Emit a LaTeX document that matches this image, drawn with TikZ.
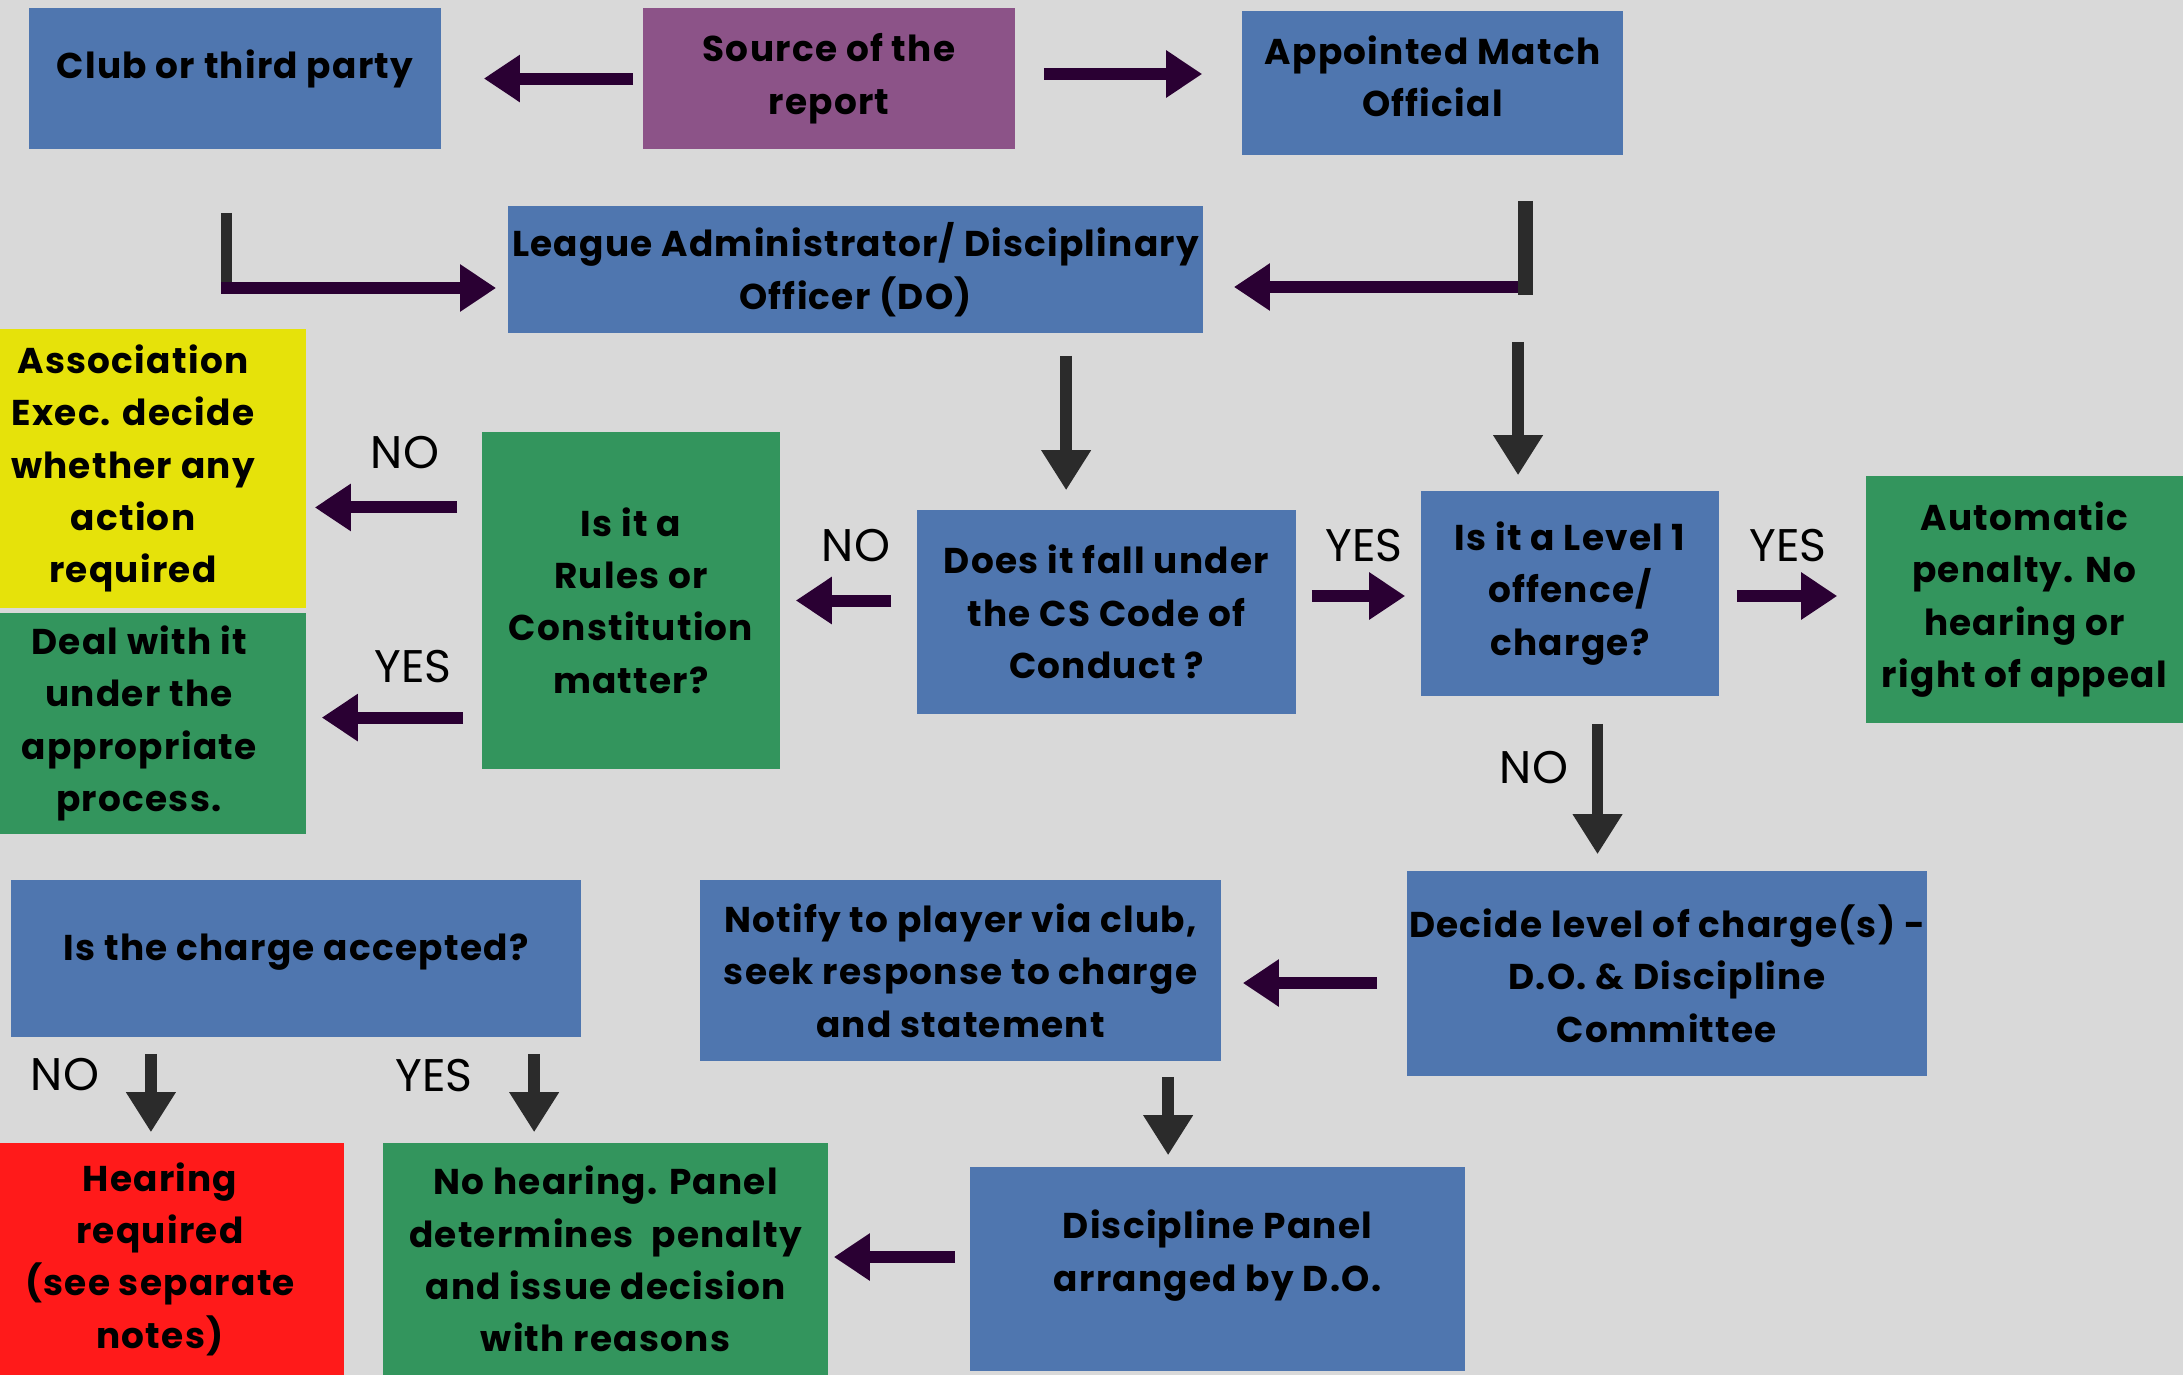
\documentclass[tikz,border=0pt]{standalone}
\usepackage{fontspec}
\setmainfont{Poppins}
\newfontfamily\boxfont{Poppins}[LetterSpace=3.5]
\usetikzlibrary{arrows.meta}

\definecolor{bgGrey}{RGB}{217,217,217}
\definecolor{boxBlue}{RGB}{79,118,175}
\definecolor{boxPurple}{RGB}{140,83,136}
\definecolor{boxGreen}{RGB}{51,149,93}
\definecolor{boxYellow}{RGB}{230,226,10}
\definecolor{boxRed}{RGB}{255,26,26}
\definecolor{arrowPurple}{RGB}{42,0,51}
\definecolor{arrowGrey}{RGB}{43,43,43}

\begin{document}
\begin{tikzpicture}[
    x=0.01cm, y=-0.01cm,
    box/.style={rectangle, inner sep=0pt, align=center, text=black,
      font=\boxfont\bfseries\fontsize{10.2}{14.9}\selectfont},
    bluebox/.style={box, fill=boxBlue},
    greenbox/.style={box, fill=boxGreen},
    parrow/.style={-{Triangle[length=0.36cm, width=0.45cm]}, line width=0.12cm, color=arrowPurple},
    garrow/.style={-{Triangle[length=0.40cm, width=0.47cm]}, line width=0.115cm, color=arrowGrey},
    gline/.style={line width=0.11cm, color=arrowGrey},
    yn/.style={inner sep=0pt, font=\fontsize{13}{15}\selectfont},
]
\useasboundingbox (0,0) rectangle (2183,1375);
\clip (0,0) rectangle (2183,1375);
\fill[bgGrey] (0,0) rectangle (2183,1375);

% top row
\node[bluebox, minimum width=4.12cm, minimum height=1.41cm, text depth=0.29cm] (club) at (235,78.5) {Club or third party};
\node[box, fill=boxPurple, minimum width=3.72cm, minimum height=1.41cm] (source) at (829,78.5) {Source of the\\report};
\node[bluebox, minimum width=3.81cm, minimum height=1.44cm, text depth=0.14cm] (appointed) at (1432.5,83) {Appointed Match\\Official};
\node[bluebox, minimum width=6.95cm, minimum height=1.27cm] (league) at (855.5,269.5) {League Administrator/ Disciplinary\\Officer (DO)};

% middle row
\node[box, fill=boxYellow, minimum width=3.46cm, minimum height=2.79cm] (assoc) at (133,468.5) {Association\\Exec. decide\\whether any\\action\\required};
\node[greenbox, minimum width=3.34cm, minimum height=2.21cm] (deal) at (139,723.5) {Deal with it\\under the\\appropriate\\process.};
\node[greenbox, minimum width=2.98cm, minimum height=3.37cm] (rules) at (631,600.5) {Is it a\\Rules or\\Constitution\\matter?};
\node[bluebox, minimum width=3.79cm, minimum height=2.04cm] (doesit) at (1106.5,612) {Does it fall under\\the CS Code of\\Conduct ?};
\node[bluebox, minimum width=2.98cm, minimum height=2.05cm] (level1) at (1570,593.5) {Is it a Level 1\\offence/\\charge?};
\node[greenbox, minimum width=3.17cm, minimum height=2.47cm] (auto) at (2024.5,599.5) {Automatic\\penalty. No\\hearing or\\right of appeal};

% bottom rows
\node[bluebox, minimum width=5.70cm, minimum height=1.57cm, text depth=0.23cm] (accepted) at (296,958.5) {Is the charge accepted?};
\node[bluebox, minimum width=5.21cm, minimum height=1.81cm] (notify) at (960.5,970.5) {Notify to player via club,\\seek response to charge\\and statement};
\node[bluebox, minimum width=5.20cm, minimum height=2.05cm] (decide) at (1667,973.5) {Decide level of charge(s) -\\D.O. \& Discipline\\Committee};
\node[box, fill=boxRed, minimum width=3.68cm, minimum height=2.32cm] (hearing) at (160,1259) {Hearing\\required\\(see separate\\notes)};
\node[greenbox, minimum width=4.45cm, minimum height=2.32cm] (nohear) at (605.5,1259) {No hearing. Panel\\determines\ \ penalty\\and issue decision\\with reasons};
\node[bluebox, minimum width=4.95cm, minimum height=2.04cm, text depth=0.37cm] (panel) at (1217.5,1269) {Discipline Panel\\arranged by D.O.};

% source of the report
\draw[parrow, shorten <=0.09cm, shorten >=0.42cm] (source.west) -- (club.east);
\draw[parrow, shorten <=0.28cm, shorten >=0.39cm] ([yshift=0.045cm]source.east) -- ([yshift=0.045cm]source.east -| appointed.west);

% into the league administrator
\coordinate (clubbend) at (226,288);
\coordinate (appbend) at (1525,287);
\draw[gline, shorten <=0.63cm] (club.south -| clubbend) -- (clubbend);
\draw[parrow, shorten <=-0.05cm, shorten >=0.11cm] (clubbend) -- (clubbend -| league.west);
\draw[parrow, shorten >=0.30cm] (appbend) -- (appbend -| league.east);
\draw[gline, line width=0.15cm, shorten <=0.45cm, shorten >=-0.08cm] (appointed.south -| appbend) -- (appbend);

% down into the questions
\draw[garrow, shorten <=0.22cm, shorten >=0.19cm] ([xshift=2.105cm]league.south) -- ([xshift=2.105cm]league.south |- doesit.north);
\draw[garrow, shorten <=1.86cm, shorten >=0.15cm] ([xshift=0.855cm]appointed.south) -- ([xshift=0.855cm]appointed.south |- level1.north);

% code of conduct question
\draw[parrow, shorten <=0.25cm, shorten >=0.15cm] (doesit.west |- rules.east) -- (rules.east);
\node[yn] (noA) at (856,546) {NO};
\draw[parrow, shorten <=0.15cm, shorten >=0.15cm] ([yshift=-0.025cm]level1.west -| doesit.east) -- ([yshift=-0.025cm]level1.west);
\node[yn] (yesA) at (1364,546) {YES};

% rules or constitution question
\draw[parrow, shorten <=0.24cm, shorten >=0.08cm] ([yshift=0.93cm]rules.west) -- ([yshift=0.93cm]rules.west -| assoc.east);
\node[yn] (noB) at (405,453) {NO};
\draw[parrow, shorten <=0.18cm, shorten >=0.15cm] ([yshift=-1.17cm]rules.west) -- ([yshift=-1.17cm]rules.west -| deal.east);
\node[yn] (yesB) at (413,667) {YES};

% level 1 question
\draw[parrow, shorten <=0.17cm, shorten >=0.28cm] ([yshift=-0.025cm]level1.east) -- ([yshift=-0.025cm]level1.east -| auto.west);
\node[yn] (yesC) at (1788,546) {YES};
\draw[garrow, shorten <=0.27cm, shorten >=0.16cm] ([xshift=0.275cm]level1.south) -- ([xshift=0.275cm]level1.south |- decide.north);
\node[yn] (noC) at (1534,768) {NO};

% charge and panel
\draw[parrow, shorten <=0.29cm, shorten >=0.21cm] ([yshift=-0.095cm]decide.west) -- ([yshift=-0.095cm]decide.west -| notify.east);
\draw[garrow, shorten <=0.15cm, shorten >=0.11cm] ([xshift=2.075cm]notify.south) -- ([xshift=2.075cm]notify.south |- panel.north);
\draw[parrow, shorten <=0.14cm, shorten >=0.05cm] ([yshift=0.12cm]panel.west) -- ([yshift=0.12cm]panel.west -| nohear.east);

% charge accepted question
\draw[garrow, shorten <=0.16cm, shorten >=0.10cm] ([xshift=-1.45cm]accepted.south) -- ([xshift=-1.45cm]accepted.south |- hearing.north);
\node[yn] (noD) at (65,1075) {NO};
\draw[garrow, shorten <=0.16cm, shorten >=0.10cm] ([xshift=2.38cm]accepted.south) -- ([xshift=2.38cm]accepted.south |- nohear.north);
\node[yn] (yesD) at (434,1075) {YES};

\end{tikzpicture}
\end{document}
